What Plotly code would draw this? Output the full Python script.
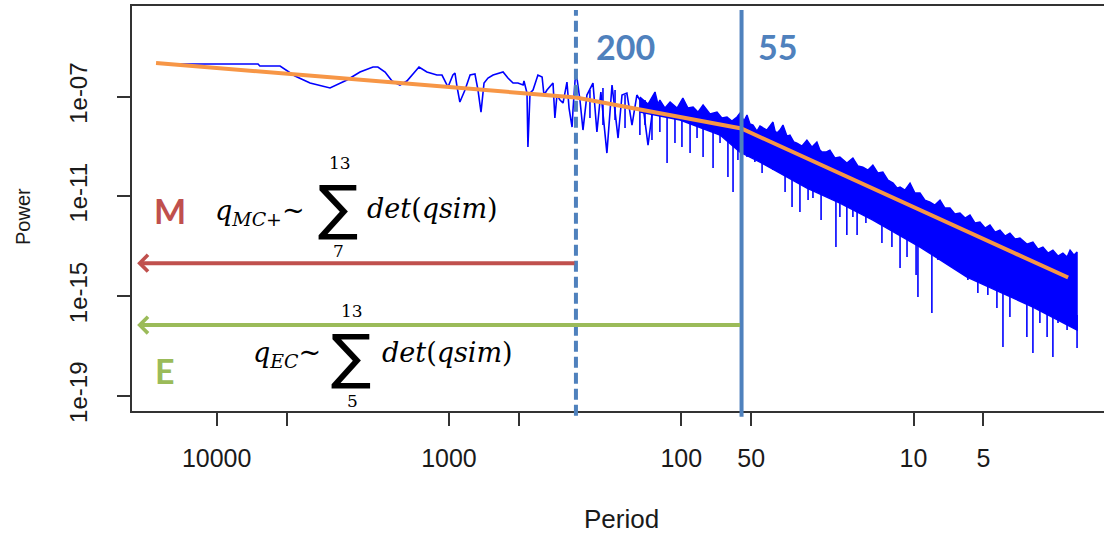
import math
import plotly.graph_objects as go

# ---------------- data (log10 units) ----------------
# sparse low-frequency part of the spectrum
line_log_period = [4.253, 4.102, 3.822, 3.814, 3.727, 3.663, 3.598, 3.512, 3.439, 3.383,
                   3.327, 3.306, 3.275, 3.245, 3.211, 3.181, 3.129, 3.095, 3.052, 3.030,
                   3.004, 2.983, 2.974, 2.965, 2.953, 2.931, 2.909, 2.888, 2.875, 2.862,
                   2.849, 2.832, 2.810, 2.767, 2.746, 2.724, 2.703, 2.681, 2.677, 2.664,
                   2.660, 2.651, 2.638, 2.617, 2.599, 2.591, 2.578, 2.552, 2.544, 2.535,
                   2.522, 2.509, 2.492, 2.483, 2.470, 2.466, 2.457, 2.449, 2.436, 2.423,
                   2.406, 2.380, 2.363, 2.346, 2.320, 2.298, 2.272, 2.255, 2.234, 2.212,
                   2.191, 2.165, 2.143, 2.113]
line_log_power = [-5.688, -5.688, -5.688, -5.769, -5.769, -6.170, -6.451, -6.651, -6.330, -6.009,
                  -5.809, -5.809, -6.009, -6.371, -6.531, -6.371, -5.809, -6.009, -6.130, -6.130,
                  -6.611, -6.130, -6.049, -6.611, -7.213, -6.732, -6.130, -6.090, -6.732, -7.615,
                  -6.451, -6.250, -6.130, -6.009, -6.250, -6.451, -6.451, -6.531, -6.371, -6.852,
                  -9.019, -6.852, -6.732, -6.130, -6.210, -6.932, -6.732, -6.451, -7.855, -6.932,
                  -7.133, -7.253, -6.411, -7.454, -8.217, -7.534, -6.330, -6.250, -7.133, -8.337,
                  -6.932, -6.451, -8.417, -6.812, -9.260, -6.531, -8.658, -6.932, -6.852, -8.136,
                  -6.932, -7.334, -8.939, -6.812]

# dense high-frequency part: upper envelope and lower edge of the solid band
band_up_log_period = [2.178, 2.143, 2.113, 2.100, 2.092, 2.070, 2.048, 2.018, 1.993, 1.971,
                      1.949, 1.928, 1.906, 1.876, 1.846, 1.825, 1.803, 1.782, 1.760, 1.747,
                      1.730, 1.717, 1.704, 1.691, 1.674, 1.661, 1.631, 1.605, 1.596, 1.588,
                      1.575, 1.562, 1.545, 1.532, 1.515, 1.502, 1.480, 1.459, 1.437, 1.416,
                      1.403, 1.394, 1.377, 1.360, 1.338, 1.317, 1.287, 1.261, 1.239, 1.218,
                      1.196, 1.175, 1.153, 1.132, 1.110, 1.088, 1.071, 1.058, 1.037, 1.015,
                      0.994, 0.972, 0.951, 0.929, 0.908, 0.886, 0.865, 0.843, 0.822, 0.800,
                      0.778, 0.757, 0.735, 0.714, 0.692, 0.671, 0.649, 0.628, 0.606, 0.585,
                      0.563, 0.542, 0.512, 0.486, 0.464, 0.443, 0.421, 0.400, 0.378, 0.357,
                      0.339, 0.326, 0.309, 0.296]
band_up_log_power = [-7.013, -7.294, -6.812, -7.294, -7.133, -7.454, -7.213, -7.454, -7.053, -7.454,
                     -7.414, -7.615, -7.334, -7.695, -7.615, -7.855, -7.815, -7.976, -7.815, -7.655,
                     -7.976, -7.735, -8.096, -8.136, -8.377, -8.176, -8.337, -8.016, -8.377, -8.457,
                     -8.337, -8.136, -8.578, -8.538, -8.818, -8.859, -8.979, -8.738, -9.019, -8.818,
                     -9.140, -9.220, -9.220, -9.140, -9.460, -9.420, -9.661, -9.460, -9.782, -9.822,
                     -9.942, -9.741, -10.062, -10.022, -10.343, -10.464, -10.664, -10.624, -10.745, -10.464,
                     -10.865, -10.865, -11.146, -11.226, -11.347, -11.146, -11.467, -11.467, -11.708, -11.668,
                     -11.868, -11.748, -12.069, -12.029, -12.270, -12.149, -12.430, -12.350, -12.591, -12.470,
                     -12.711, -12.671, -12.912, -12.831, -13.112, -13.032, -13.273, -13.153, -13.393, -13.273,
                     -13.433, -13.153, -13.353, -13.233]
band_lo_log_period = [2.178, 2.005, 1.833, 1.747, 1.661, 1.459, 1.317, 1.175, 0.972, 0.770,
                      0.628, 0.486, 0.296]
band_lo_log_power = [-7.615, -7.936, -8.538, -9.220, -9.621, -10.664, -11.266, -11.949, -13.032, -14.236,
                     -14.838, -15.440, -16.363]

# thin spikes (vertical strokes) around and below the band
spike_log_period = [2.393, 2.337, 2.285, 2.242, 2.178, 2.156, 2.126,
                    2.092, 2.061, 2.027, 1.997, 1.962, 1.932, 1.906, 1.863, 1.833, 1.799,
                    1.777, 1.756, 1.717, 1.683, 1.652, 1.605, 1.553, 1.523, 1.489, 1.454,
                    1.433, 1.398, 1.368, 1.334, 1.317, 1.287, 1.261, 1.243, 1.205, 1.136,
                    1.093, 1.058, 1.028, 0.989, 0.981, 0.921, 0.895, 0.822, 0.766, 0.723,
                    0.680, 0.641, 0.615, 0.585, 0.512, 0.486, 0.456, 0.425, 0.400, 0.378,
                    0.339, 0.296]
spike_log_power_top = [-6.732, -6.651, -6.732, -6.932, -7.053, -7.133, -7.133,
                       -7.534, -7.575, -7.655, -7.695, -7.775, -7.855, -7.936, -8.096, -8.217, -8.417,
                       -8.497, -8.578, -8.979, -9.140, -9.340, -9.541, -9.822, -9.982, -10.143, -10.343,
                       -10.424, -10.584, -10.745, -10.905, -10.945, -11.066, -11.186, -11.266, -11.467, -11.828,
                       -12.029, -12.230, -12.390, -12.591, -12.631, -12.992, -13.153, -13.594, -13.915, -14.116,
                       -14.316, -14.477, -14.557, -14.677, -14.918, -15.039, -15.159, -15.279, -15.400, -15.480,
                       -15.640, -15.761]
spike_log_power_bottom = [-7.855, -8.136, -7.936, -8.257, -8.538, -8.136, -8.738,
                          -8.417, -9.661, -8.859, -9.019, -9.260, -8.658, -9.420, -9.862, -8.859, -10.223,
                          -10.825, -9.541, -9.420, -9.621, -10.062, -9.942, -10.825, -11.427, -11.628, -11.146,
                          -11.066, -11.949, -11.026, -13.032, -11.828, -12.551, -11.828, -12.551, -12.069, -12.871,
                          -13.032, -13.875, -13.433, -14.156, -15.039, -15.681, -13.554, -13.835, -14.356, -14.878,
                          -14.958, -15.480, -17.045, -15.841, -16.644, -17.286, -16.082, -16.644, -17.446, -16.082,
                          -16.363, -17.085]

# piecewise fit (orange)
fit_period = [18240, 284, 55.1, 2.16]
fit_power = [2.25e-6, 9.3e-8, 5.3e-9, 5.56e-15]

# cut-off periods (vertical lines) and their labels
cut_periods = [284, 55]
cut_labels = ["200", "55"]

# arrows
arrow_head_period = 22000
arrow_powers = [2.1e-14, 6.9e-17]
arrow_labels = ["M", "E"]

x_tick_vals = [10000, 5000, 1000, 500, 100, 50, 10, 5]
x_tick_text = ["10000", "", "1000", "", "100", "50", "10", "5"]
y_tick_vals = [1e-7, 1e-11, 1e-15, 1e-19]
y_tick_text = ["1e-07", "1e-11", "1e-15", "1e-19"]

BLUE = "#0000FF"
ORANGE = "#F79646"
STEEL = "#4F81BD"
RED = "#C0504D"
GREEN = "#9BBB59"


def p10(v):
    return [10 ** a for a in v]


fig = go.Figure()

# sparse line
fig.add_trace(go.Scatter(x=p10(line_log_period), y=p10(line_log_power), mode="lines",
                         line=dict(color=BLUE, width=1.6), hoverinfo="skip", showlegend=False))
# dense band
bx = band_up_log_period + band_lo_log_period[::-1]
by = band_up_log_power + band_lo_log_power[::-1]
fig.add_trace(go.Scatter(x=p10(bx), y=p10(by), mode="lines", fill="toself",
                         fillcolor=BLUE, line=dict(color=BLUE, width=1.4),
                         hoverinfo="skip", showlegend=False))
# spikes
sx, sy = [], []
for lp, t, b in zip(spike_log_period, spike_log_power_top, spike_log_power_bottom):
    sx += [10 ** lp, 10 ** lp, None]
    sy += [10 ** t, 10 ** b, None]
fig.add_trace(go.Scatter(x=sx, y=sy, mode="lines", line=dict(color=BLUE, width=1.6),
                         hoverinfo="skip", showlegend=False))
# fit
fig.add_trace(go.Scatter(x=fit_period, y=fit_power, mode="lines",
                         line=dict(color=ORANGE, width=4), hoverinfo="skip", showlegend=False))

# vertical cut lines
fig.add_shape(type="line", xref="x", yref="paper", x0=cut_periods[0], x1=cut_periods[0],
              y0=-0.012, y1=0.99, line=dict(color=STEEL, width=4, dash="11px,5px"))
fig.add_shape(type="line", xref="x", yref="paper", x0=cut_periods[1], x1=cut_periods[1],
              y0=-0.014, y1=0.99, line=dict(color=STEEL, width=4))

# arrows
for per, pw, col in zip(cut_periods, arrow_powers, [RED, GREEN]):
    fig.add_annotation(x=math.log10(arrow_head_period), y=math.log10(pw),
                       ax=math.log10(per), ay=math.log10(pw),
                       xref="x", yref="y", axref="x", ayref="y", text="",
                       showarrow=True, arrowhead=4, arrowsize=0.8, arrowwidth=4,
                       arrowcolor=col, standoff=0, startstandoff=0)


def pa(px, py):
    return (px - 132) / 972, (411 - py) / 405


def label(px, py, text, size, color="black", family="Liberation Sans", **kw):
    x, y = pa(px, py)
    fig.add_annotation(x=x, y=y, xref="paper", yref="paper", text=text, showarrow=False,
                       xanchor="center", yanchor="middle",
                       font=dict(size=size, color=color, family=family), **kw)


# cut labels
label(625, 47, "<b>%s</b>" % cut_labels[0], 34, STEEL, "Lato")
label(777, 47, "<b>%s</b>" % cut_labels[1], 34, STEEL, "Lato")
# group letters
label(170, 210, "<b>%s</b>" % arrow_labels[0], 34, RED, "Lato")
label(165, 370, "<b>%s</b>" % arrow_labels[1], 34, GREEN, "Lato")

# formulas
SERIF = "DejaVu Serif"
label(260, 212, "<i>q<sub>MC+</sub></i>~", 27, family=SERIF)
label(338, 207, "∑", 60, family="DejaVu Sans")
label(340, 163, "13", 17, family=SERIF)
label(338, 251, "7", 17, family=SERIF)
label(432, 208, "<i>det</i>(<i>qsim</i>)", 27, family=SERIF)

label(287, 354, "<i>q<sub>EC</sub></i>~", 27, family=SERIF)
label(351, 356, "∑", 60, family="DejaVu Sans")
label(352, 311, "13", 17, family=SERIF)
label(352, 401, "5", 17, family=SERIF)
label(447, 352, "<i>det</i>(<i>qsim</i>)", 27, family=SERIF)

# axis titles
label(23, 217, "Power", 20, "#1a1a1a", textangle=-90)
label(621, 519, "Period", 26, "#1a1a1a")

fig.update_xaxes(type="log", range=[4.3645, 0.180], autorange=False, automargin=False,
                 tickvals=x_tick_vals, ticktext=x_tick_text,
                 ticks="outside", ticklen=13, tickwidth=1.5, tickcolor="#333",
                 showline=True, linecolor="#333", linewidth=1.5, mirror=True,
                 showgrid=False, zeroline=False, ticklabelstandoff=11,
                 tickfont=dict(family="Liberation Sans", size=25, color="#1a1a1a"))
fig.update_yaxes(type="log", range=[-19.61, -3.36], autorange=False, automargin=False,
                 tickvals=y_tick_vals, ticktext=y_tick_text, tickangle=-90,
                 ticks="outside", ticklen=13, tickwidth=1.5, tickcolor="#333",
                 showline=True, linecolor="#333", linewidth=1.5, mirror=False,
                 showgrid=False, zeroline=False, ticklabelstandoff=21,
                 tickfont=dict(family="Liberation Sans", size=24, color="#1a1a1a"))

fig.update_layout(width=1104, height=537, margin=dict(l=132, r=0, t=6, b=126),
                  paper_bgcolor="white", plot_bgcolor="white", showlegend=False)

# remove the browser's default page margin so the figure sits at the window's corner
fig.write_html("out.html", config={"displayModeBar": False},
               post_script="document.body.style.margin='0px';document.body.style.overflow='hidden';")
